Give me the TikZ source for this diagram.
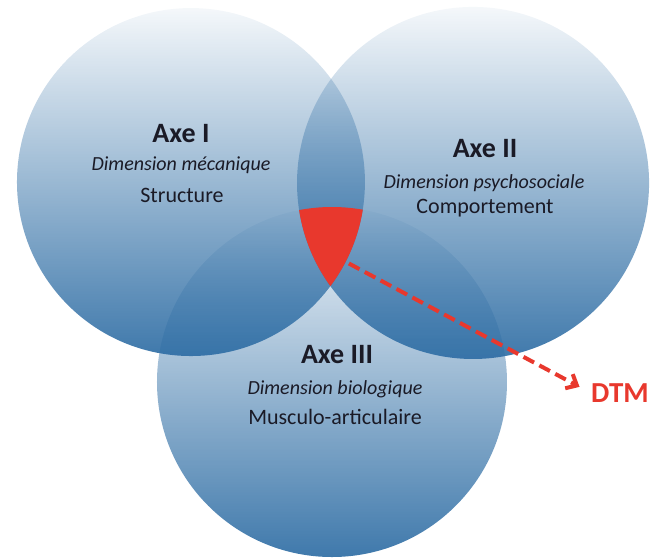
\documentclass[tikz,border=0pt]{standalone}
\usepackage{fontspec}
\setmainfont{Carlito}
\usetikzlibrary{arrows.meta,fadings}
\definecolor{discblue}{HTML}{2E6DA4}
\definecolor{wedgered}{HTML}{E8382D}
\definecolor{txt}{HTML}{1A1A26}
\tikzfading[name=discfade, top color=transparent!95, bottom color=transparent!8]
\tikzset{
  disc/.style={fill=discblue, draw=none, path fading=discfade},
  axe/.style={font=\bfseries\fontsize{28}{32}\selectfont, text=txt, inner sep=0pt},
  dim/.style={font=\itshape\fontsize{20}{24}\selectfont, text=txt, inner sep=0pt},
  sub/.style={font=\fontsize{22}{26}\selectfont, text=txt, inner sep=0pt},
  dtmlabel/.style={font=\bfseries\fontsize{29}{32}\selectfont, text=wedgered, inner sep=0pt},
  link/.style={wedgered, line width=4pt, dash pattern=on 12pt off 6pt,
    -{Straight Barb[length=9pt,width=16pt,line width=4pt]}}
}
\begin{document}
\begin{tikzpicture}[x=1pt,y=1pt]
\useasboundingbox (0,0) rectangle (652,558);
\fill[disc] (191,376) circle (174);
\fill[disc] (473,375) circle (176);
\fill[disc] (332,176) circle (175);
\begin{scope}
  \clip (191,376) circle (174);
  \clip (473,375) circle (176);
  \fill[wedgered] (332,176) circle (175);
\end{scope}
\node[axe] (a1) at (181,424) {Axe I};
\node[dim] (d1) at (181,393) {Dimension mécanique};
\node[sub] (s1) at (182,363) {Structure};
\node[axe] (a2) at (485,409) {Axe II};
\node[dim] (d2) at (484,375) {Dimension psychosociale};
\node[sub] (s2) at (485,350) {Comportement};
\node[axe] (a3) at (337,203) {Axe III};
\node[dim] (d3) at (335,169) {Dimension biologique};
\node[sub] (s3) at (335,141) {Musculo-articulaire};
\coordinate (w) at (333,303);
\node[dtmlabel, anchor=west] (dtm) at (591,165) {DTM};
\draw[link, shorten >=13pt] (w) -- (dtm.west);
\end{tikzpicture}
\end{document}
